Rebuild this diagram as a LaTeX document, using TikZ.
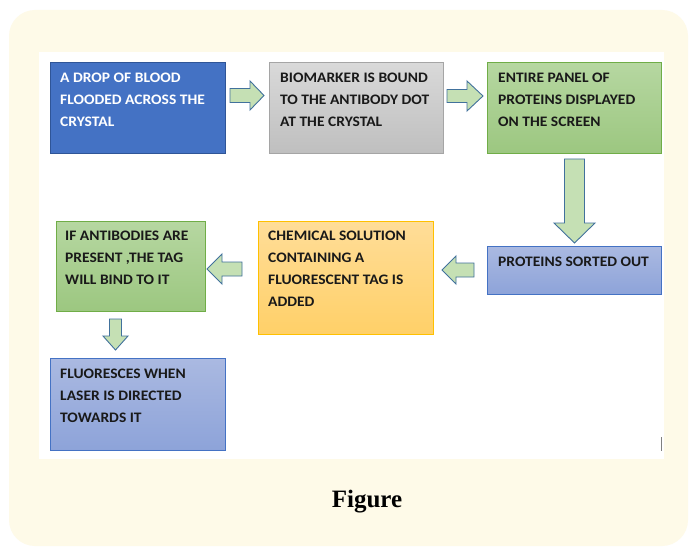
\documentclass[tikz,border=0pt]{standalone}
\usepackage{fontspec}
\setmainfont{Carlito}
\newfontfamily\boxfont{Carlito}[FakeStretch=1.07]
\newfontfamily\capfont{Liberation Serif}
\usetikzlibrary{calc}
\definecolor{bgyellow}{HTML}{FEFAE8}
\definecolor{b1fill}{HTML}{4472C4}
\definecolor{b1draw}{HTML}{2F5597}
\definecolor{greytop}{HTML}{D9D9D9}
\definecolor{greybot}{HTML}{BFBFBF}
\definecolor{greydraw}{HTML}{A5A5A5}
\definecolor{greentop}{HTML}{B6D7A1}
\definecolor{greenbot}{HTML}{9CC780}
\definecolor{greendraw}{HTML}{70AD47}
\definecolor{bluetop}{HTML}{AAB9E1}
\definecolor{bluebot}{HTML}{8DA3D9}
\definecolor{bluedraw}{HTML}{4472C4}
\definecolor{orangetop}{HTML}{FFDD98}
\definecolor{orangebot}{HTML}{FFD068}
\definecolor{orangedraw}{HTML}{FFC000}
\definecolor{arrowfill}{HTML}{C5E0B4}
\definecolor{arrowdraw}{HTML}{41719C}
\tikzset{
  boxbase/.style={rectangle, inner sep=0pt, anchor=north west, line width=1pt},
  bluebox/.style={boxbase, fill=b1fill, draw=b1draw},
  greybox/.style={boxbase, top color=greytop, bottom color=greybot, draw=greydraw},
  greenbox/.style={boxbase, top color=greentop, bottom color=greenbot, draw=greendraw},
  lightbluebox/.style={boxbase, top color=bluetop, bottom color=bluebot, draw=bluedraw},
  orangebox/.style={boxbase, top color=orangetop, bottom color=orangebot, draw=orangedraw},
  txt/.style={inner sep=0pt, anchor=north west, align=left, text=black!90,
    font=\boxfont\fontsize{14.5}{22}\selectfont\bfseries},
  arrowsty/.style={fill=arrowfill, draw=arrowdraw, line width=0.9pt, line join=miter},
  pics/blockarrow/.style n args={4}{code={
    \draw[arrowsty] (0,-#2) -- ({#1-#4},-#2) -- ({#1-#4},-#3) -- (#1,0)
      -- ({#1-#4},#3) -- ({#1-#4},#2) -- (0,#2) -- cycle;}}
}
\begin{document}
\begin{tikzpicture}[x=1pt,y=-1pt]
\useasboundingbox (0,0) rectangle (693,548);
\fill[white] (0,0) rectangle (693,548);
\fill[bgyellow, rounded corners=26pt] (9,10) rectangle (688,546);
\fill[white] (39,52) rectangle (664,459);

% boxes
\node[bluebox, minimum width=175pt, minimum height=91pt] (b1) at (50,62) {};
\node[greybox, minimum width=174pt, minimum height=91pt] (b2) at (269,62) {};
\node[greenbox, minimum width=174pt, minimum height=91pt] (b3) at (487,62) {};
\node[lightbluebox, minimum width=174pt, minimum height=48pt] (b4) at (487,246) {};
\node[orangebox, minimum width=175pt, minimum height=113pt] (b5) at (258,221) {};
\node[greenbox, minimum width=149pt, minimum height=90pt] (b6) at (55.5,221) {};
\node[lightbluebox, minimum width=175pt, minimum height=92pt] (b7) at (50,358) {};

% texts
\node[txt, text=white] (t1) at ($(b1.north west)+(10,11)$) {A DROP OF BLOOD\\FLOODED ACROSS THE\\CRYSTAL};
\node[txt] (t2) at ($(b2.north west)+(11,11)$) {BIOMARKER IS BOUND\\TO THE ANTIBODY DOT\\AT THE CRYSTAL};
\node[txt] (t3) at ($(b3.north west)+(11,11)$) {ENTIRE PANEL OF\\PROTEINS DISPLAYED\\ON THE SCREEN};
\node[txt] (t4) at ($(b4.north west)+(11,11)$) {PROTEINS SORTED OUT};
\node[txt] (t5) at ($(b5.north west)+(10,10)$) {CHEMICAL SOLUTION\\CONTAINING A\\FLUORESCENT TAG IS\\ADDED};
\node[txt] (t6) at ($(b6.north west)+(9.5,10)$) {IF ANTIBODIES ARE\\PRESENT ,THE TAG\\WILL BIND TO IT};
\node[txt] (t7) at ($(b7.north west)+(10,11)$) {FLUORESCES WHEN\\LASER IS DIRECTED\\TOWARDS IT};

% block arrows between boxes
\coordinate (a1) at ($(b1.north east)+(4,33.5)$);
\coordinate (a2) at ($(b2.north east)+(3,34)$);
\coordinate (a3) at ($(b3.south)+(0,5)$);
\coordinate (a4) at ($(b4.north west)+(-13,24)$);
\coordinate (a5) at ($(b5.north west)+(-16,48)$);
\coordinate (a6) at ($(b6.south)+(-15,7)$);
\pic at (a1) {blockarrow={34}{7}{14.5}{14}};
\pic at (a2) {blockarrow={36}{6.5}{15}{16}};
\pic[rotate=-90] at (a3) {blockarrow={84}{10}{20.5}{20}};
\pic[rotate=180] at (a4) {blockarrow={32}{7}{14}{14}};
\pic[rotate=180] at (a5) {blockarrow={35}{7}{15}{15}};
\pic[rotate=-90] at (a6) {blockarrow={31}{6}{12.5}{14}};

% small stray mark
\draw[gray, line width=1pt] (661.5,437) -- (661.5,451);

% caption
\node[anchor=base, inner sep=0pt, font=\fontsize{25}{30}\selectfont\capfont\bfseries] (cap) at (367,507) {Figure};
\end{tikzpicture}
\end{document}
